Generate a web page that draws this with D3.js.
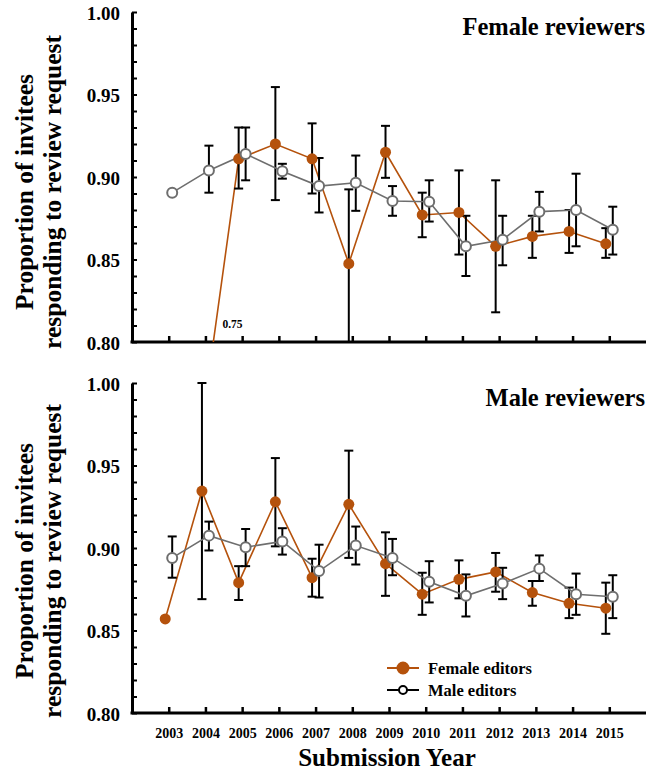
<!DOCTYPE html>
<html>
<head>
<meta charset="utf-8">
<script src="https://cdn.jsdelivr.net/npm/d3@7"></script>
<style>
  body { margin: 0; background: #fff; }
  svg { display: block; }
  svg text { font-family: "Liberation Serif", "Times New Roman", serif; font-weight: bold; }
</style>
</head>
<body>
<svg id="chart" width="648" height="775"></svg>
<script>
// submission years
const years = [2003, 2004, 2005, 2006, 2007, 2008, 2009, 2010, 2011, 2012, 2013, 2014, 2015];

// female reviewers panel
const femEd_femRev    = [null, 0.75, 0.911, 0.920, 0.911, 0.8475, 0.915, 0.877, 0.8785, 0.858, 0.864, 0.867, 0.8595];
const femEd_femRev_lo = [null, null, 0.893, 0.886, 0.890, 0.800, 0.8995, 0.8635, 0.853, 0.818, 0.851, 0.854, 0.851];
const femEd_femRev_hi = [null, null, 0.930, 0.9545, 0.9325, 0.8925, 0.931, 0.8905, 0.904, 0.898, 0.8765, 0.880, 0.869];
const maleEd_femRev    = [0.8905, 0.904, 0.914, 0.9035, 0.8945, 0.8965, 0.8855, 0.885, 0.858, 0.862, 0.879, 0.880, 0.868];
const maleEd_femRev_lo = [null, 0.8905, 0.898, 0.899, 0.8785, 0.8795, 0.8765, 0.873, 0.840, 0.8465, 0.867, 0.858, 0.853];
const maleEd_femRev_hi = [null, 0.919, 0.930, 0.908, 0.9115, 0.913, 0.8945, 0.898, 0.8765, 0.8765, 0.891, 0.902, 0.882];

// male reviewers panel
const femEd_maleRev    = [0.857, 0.9345, 0.879, 0.928, 0.882, 0.9265, 0.8905, 0.872, 0.881, 0.8855, 0.873, 0.8665, 0.8635];
const femEd_maleRev_lo = [null, 0.869, 0.8685, 0.901, 0.8705, 0.894, 0.871, 0.8595, 0.8695, 0.8735, 0.865, 0.8575, 0.848];
const femEd_maleRev_hi = [null, 1.00, 0.889, 0.9545, 0.8935, 0.959, 0.9095, 0.885, 0.8925, 0.897, 0.880, 0.876, 0.879];
const maleEd_maleRev    = [0.894, 0.9075, 0.9005, 0.904, 0.886, 0.9015, 0.894, 0.8795, 0.871, 0.8785, 0.8875, 0.872, 0.8705];
const maleEd_maleRev_lo = [0.882, 0.8985, 0.889, 0.896, 0.870, 0.890, 0.8835, 0.867, 0.8585, 0.869, 0.880, 0.8595, 0.8575];
const maleEd_maleRev_hi = [0.907, 0.916, 0.9115, 0.912, 0.902, 0.913, 0.9055, 0.892, 0.884, 0.888, 0.8955, 0.8845, 0.8835];

const yTicks = [0.80, 0.81, 0.82, 0.83, 0.84, 0.85, 0.86, 0.87, 0.88, 0.89, 0.90,
                0.91, 0.92, 0.93, 0.94, 0.95, 0.96, 0.97, 0.98, 0.99, 1.00];
const yLabels = [0.80, 0.85, 0.90, 0.95, 1.00];

const femColor = "#b5520c";
const maleColor = "#6e6e6e";

const svg = d3.select("svg#chart");

const left = 132, right = 646;
const x = d3.scaleLinear().domain([2002, 2016]).range([left, right]);
const jitter = 0.095; // female editors shifted left, male editors right

function panel(top, bottom, title, fem, femLo, femHi, male, maleLo, maleHi, showYears, id, titleShift) {
  const y = d3.scaleLinear().domain([0.80, 1.00]).range([bottom, top]);
  const g = svg.append("g");

  g.append("clipPath").attr("id", "clip" + id)
    .append("rect").attr("x", left).attr("y", top - 2).attr("width", right - left).attr("height", bottom - top + 2);

  // y axis
  const gy = g.append("g").attr("transform", `translate(${left},0)`)
    .call(d3.axisLeft(y).tickValues(yTicks).tickSize(-5).tickSizeOuter(0).tickPadding(12)
      .tickFormat(d => yLabels.some(v => Math.abs(v - d) < 1e-9) ? d3.format(".2f")(d) : ""));
  gy.attr("font-family", null).attr("font-size", 19);
  gy.select(".domain").attr("stroke-width", 3);
  gy.selectAll(".tick line").attr("stroke-width", 2);
  gy.selectAll("text").attr("fill", "#000").attr("dy", "0.38em");

  // x axis
  const gx = g.append("g").attr("transform", `translate(0,${bottom})`)
    .call(d3.axisBottom(x).tickValues(years).tickSize(-6).tickSizeOuter(0).tickPadding(15)
      .tickFormat(d => showYears ? d : ""));
  gx.attr("font-family", null).attr("font-size", 14);
  gx.select(".domain").attr("stroke-width", 3).attr("d", `M${left - 1.5},0H${right}`);
  gx.selectAll(".tick line").attr("stroke-width", 2.5);
  gx.selectAll("text").attr("fill", "#000");

  // y axis title
  const yt = g.append("text")
    .attr("transform", `translate(0,${(top + bottom) / 2 + titleShift}) rotate(-90)`)
    .attr("text-anchor", "middle").attr("font-size", 25.5).attr("fill", "#000");
  yt.append("tspan").attr("x", 0).attr("y", 33).text("Proportion of invitees");
  yt.append("tspan").attr("x", 0).attr("y", 60.5).text("responding to review request");

  // panel title
  g.append("text").attr("x", right - 1).attr("y", top + 23)
    .attr("text-anchor", "end").attr("font-size", 24.5).attr("fill", "#000")
    .text(title);

  const plot = g.append("g").attr("clip-path", `url(#clip${id})`);

  function series(vals, lo, hi, dx, color) {
    const pts = years.map((yr, i) => ({ yr: yr, v: vals[i], lo: lo[i], hi: hi[i] }))
      .filter(d => d.v != null);

    const line = d3.line().x(d => x(d.yr + dx)).y(d => y(d.v));
    plot.append("path").datum(pts)
      .attr("d", line).attr("fill", "none")
      .attr("stroke", color).attr("stroke-width", 1.6);

    const eb = plot.append("g").attr("stroke", "#000").attr("stroke-width", 2);
    pts.filter(d => d.lo != null).forEach(d => {
      const cx = x(d.yr + dx);
      eb.append("line").attr("x1", cx).attr("x2", cx).attr("y1", y(d.lo)).attr("y2", y(d.hi));
      eb.append("line").attr("x1", cx - 4.5).attr("x2", cx + 4.5).attr("y1", y(d.lo)).attr("y2", y(d.lo));
      eb.append("line").attr("x1", cx - 4.5).attr("x2", cx + 4.5).attr("y1", y(d.hi)).attr("y2", y(d.hi));
    });
    return pts;
  }

  const fp = series(fem, femLo, femHi, -jitter, femColor);
  const mp = series(male, maleLo, maleHi, jitter, maleColor);

  plot.append("g").selectAll("circle").data(fp).enter().append("circle")
    .attr("cx", d => x(d.yr - jitter)).attr("cy", d => y(d.v)).attr("r", 5.5)
    .attr("fill", femColor);
  plot.append("g").selectAll("circle").data(mp).enter().append("circle")
    .attr("cx", d => x(d.yr + jitter)).attr("cy", d => y(d.v)).attr("r", 5)
    .attr("fill", "#fff").attr("stroke", maleColor).attr("stroke-width", 2);

  // off-scale value note
  fp.filter(d => d.v < 0.80).forEach(d => {
    g.append("text").attr("x", x(d.yr) + 17).attr("y", bottom - 14)
      .attr("font-size", 11.5).attr("fill", "#000").text(d3.format(".2f")(d.v));
  });

  return y;
}

panel(12, 342, "Female reviewers",
  femEd_femRev, femEd_femRev_lo, femEd_femRev_hi,
  maleEd_femRev, maleEd_femRev_lo, maleEd_femRev_hi, false, 1, 15);
panel(383, 713, "Male reviewers",
  femEd_maleRev, femEd_maleRev_lo, femEd_maleRev_hi,
  maleEd_maleRev, maleEd_maleRev_lo, maleEd_maleRev_hi, true, 2, 13);

// legend
const legend = svg.append("g").attr("transform", "translate(387,668)");
const legItems = [
  { label: "Female editors", color: femColor, fill: femColor, r: 5.5, dy: 0 },
  { label: "Male editors", color: "#000", fill: "#fff", r: 4, dy: 22 }
];
legItems.forEach(d => {
  const row = legend.append("g").attr("transform", `translate(0,${d.dy})`);
  row.append("line").attr("x1", 0).attr("x2", 32).attr("stroke", d.color).attr("stroke-width", 2);
  row.append("circle").attr("cx", 16).attr("r", d.r).attr("fill", d.fill)
    .attr("stroke", d.color).attr("stroke-width", 2);
  row.append("text").attr("x", 41).attr("y", 6).attr("font-size", 16.5).attr("fill", "#000").text(d.label);
});

// x axis title
svg.append("text").attr("x", (left + right) / 2 - 2).attr("y", 766)
  .attr("text-anchor", "middle").attr("font-size", 25).attr("fill", "#000")
  .text("Submission Year");
</script>
</body>
</html>
